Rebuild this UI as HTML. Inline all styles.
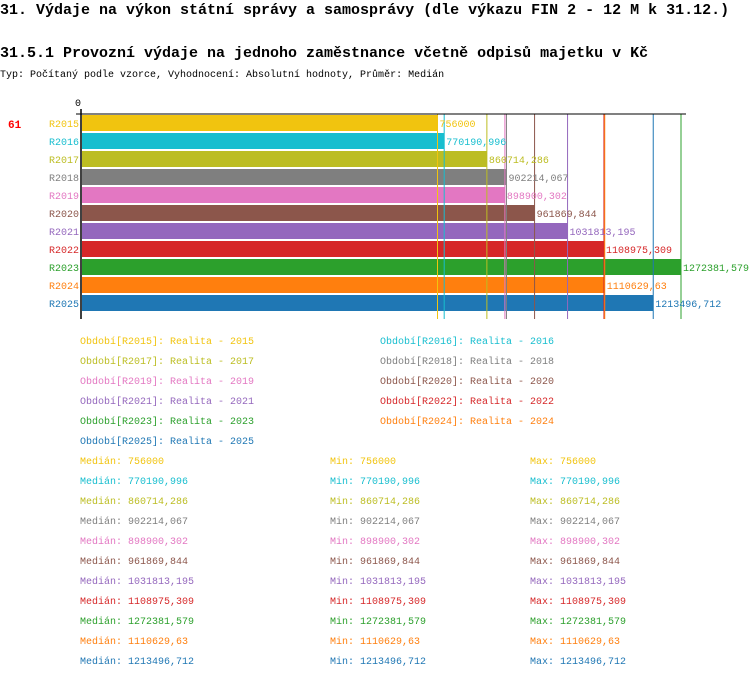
<!DOCTYPE html>
<html><head><meta charset="utf-8"><style>
html,body{margin:0;padding:0;background:#fff;width:750px;height:678px;overflow:hidden}
svg text{font-family:"Liberation Mono",monospace}
</style></head><body>
<svg id="c" width="750" height="678" xmlns="http://www.w3.org/2000/svg">
<text x="0" y="14" font-size="15" font-weight="bold">31. Výdaje na výkon státní správy a samosprávy (dle výkazu FIN 2 - 12 M k 31.12.)</text>
<text x="0" y="57" font-size="15" font-weight="bold">31.5.1 Provozní výdaje na jednoho zaměstnance včetně odpisů majetku v Kč</text>
<text x="0" y="77" font-size="10">Typ: Počítaný podle vzorce, Vyhodnocení: Absolutní hodnoty, Průměr: Medián</text>
<text x="8" y="128" font-size="11" font-weight="bold" fill="#ff0000">61</text>
<text x="78" y="106" font-size="10" text-anchor="middle">0</text>
<g id="bars"></g>
<line x1="76" y1="114" x2="686" y2="114" stroke="#000" stroke-width="1"/>
<line x1="81" y1="109" x2="81" y2="319" stroke="#000" stroke-width="1.5"/>
<g id="legend"></g>
</svg>
<script>
const categories=["R2015","R2016","R2017","R2018","R2019","R2020","R2021","R2022","R2023","R2024","R2025"];
const values=[756000,770190.996,860714.286,902214.067,898900.302,961869.844,1031813.195,1108975.309,1272381.579,1110629.63,1213496.712];
const labels=["756000","770190,996","860714,286","902214,067","898900,302","961869,844","1031813,195","1108975,309","1272381,579","1110629,63","1213496,712"];
const colors=["#f1c40f","#17becf","#bcbd22","#7f7f7f","#e377c2","#8c564b","#9467bd","#d62728","#2ca02c","#ff7f0e","#1f77b4"];
const NS="http://www.w3.org/2000/svg";
const x=v=>81+v*(600/1272381.579);
const y=i=>115+i*18;
const g=document.getElementById('bars');
function mk(tag,attrs,parent,txt){const e=document.createElementNS(NS,tag);for(const k in attrs)e.setAttribute(k,attrs[k]);if(txt!==undefined)e.textContent=txt;parent.appendChild(e);return e;}
categories.forEach((c,i)=>{
  const r=mk('rect',{x:82,y:y(i),width:x(values[i])-82,height:16,fill:colors[i]},g);
  
  
  const t=mk('text',{x:79,y:y(i)+12,'font-size':10,'text-anchor':'end',fill:colors[i]},g,c);
  
  
});
categories.forEach((c,i)=>{
  const l=mk('line',{x1:x(values[i]),y1:114,x2:x(values[i]),y2:319,stroke:colors[i],'stroke-width':1},g);
  
  
});
categories.forEach((c,i)=>{
  const t=mk('text',{x:x(values[i])+2,y:y(i)+12,'font-size':10,fill:colors[i]},g,labels[i]);
  
  
});
const lg=document.getElementById('legend');
categories.forEach((c,i)=>{
  const yr=c.slice(1);
  const t=mk('text',{x:i%2?380:80,y:344+Math.floor(i/2)*20,'font-size':10,fill:colors[i]},lg,'Období['+c+']: Realita - '+yr);
  
  
});
categories.forEach((c,i)=>{
  [['Medián: ',80],['Min: ',330],['Max: ',530]].forEach(([p,xx])=>{
    const t=mk('text',{x:xx,y:464+i*20,'font-size':10,fill:colors[i]},lg,p+labels[i]);
    
    
  });
});
</script>
</body></html>
